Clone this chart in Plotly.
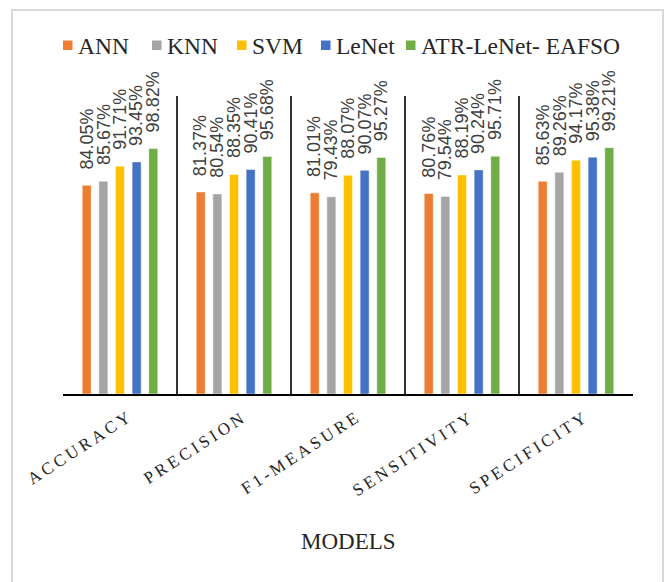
import plotly.graph_objects as go

# Evaluation metrics (x categories) and model scores (%)
categories = ["ACCURACY", "PRECISION", "F1-MEASURE", "SENSITIVITY", "SPECIFICITY"]
model_names = ["ANN", "KNN", "SVM", "LeNet", "ATR-LeNet- EAFSO"]
ann = [84.05, 81.37, 81.01, 80.76, 85.63]
knn = [85.67, 80.54, 79.43, 79.54, 89.26]
svm = [91.71, 88.35, 88.07, 88.19, 94.17]
lenet = [93.45, 90.41, 90.07, 90.24, 95.38]
atr_lenet = [98.82, 95.68, 95.27, 95.71, 99.21]

series = [ann, knn, svm, lenet, atr_lenet]
colors = ["#ED7D31", "#A5A5A5", "#FFC000", "#4472C4", "#70AD47"]

W, H = 668, 582
ML, MR, MT, MB = 63, 35, 96, 188
PW, PH = W - ML - MR, H - MT - MB
BARGAP, GROUPGAP = 0.27, 0.46
SERIF = "Liberation Serif, Times New Roman, serif"


def px(x):
    """pixel x -> paper x"""
    return (x - ML) / PW


def py(y):
    """pixel y -> paper y"""
    return (H - MB - y) / PH


fig = go.Figure()
annotations = []
slot = PW / len(categories) * (1 - BARGAP) / len(series)
for i, (name, vals, col) in enumerate(zip(model_names, series, colors)):
    fig.add_trace(go.Bar(
        x=categories, y=vals, name=name,
        marker=dict(color=col, line=dict(color="rgba(255,255,255,0.45)", width=1)),
        showlegend=False,
    ))
    # rotated value labels sitting above each bar
    for cat, v in zip(categories, vals):
        annotations.append(dict(
            xref="x", yref="y", x=cat, y=v, xanchor="center", yanchor="bottom",
            xshift=(i - (len(series) - 1) / 2) * slot, yshift=14,
            text=f"{v:.2f}%", textangle=-90, showarrow=False,
            font=dict(family="Liberation Sans", size=18, color="#404040"),
        ))

# slanted, letter-spaced category labels under the axis
for cat in categories:
    annotations.append(dict(
        xref="x", yref="y", x=cat, y=0, xanchor="right", yanchor="top",
        xshift=16, yshift=-12, textangle=-33, showarrow=False,
        text="\u2009".join(cat),
        font=dict(family=SERIF, size=17, color="#262626"),
    ))

shapes = []

# outer chart frame
shapes.append(dict(type="rect", xref="paper", yref="paper",
                   x0=px(12), x1=px(663), y0=py(600), y1=py(10),
                   line=dict(color="#D9D9D9", width=2), fillcolor="rgba(0,0,0,0)",
                   layer="below"))

# legend row
legend_left = [63, 152, 237, 321, 406]
for name, col, x0 in zip(model_names, colors, legend_left):
    shapes.append(dict(type="rect", xref="paper", yref="paper",
                       x0=px(x0), x1=px(x0 + 9.5), y0=py(50), y1=py(40.5),
                       line=dict(width=0), fillcolor=col))
    annotations.append(dict(xref="paper", yref="paper", x=px(x0 + 12.5), y=py(45.5),
                            xanchor="left", yanchor="middle", showarrow=False,
                            text=name,
                            font=dict(family=SERIF, size=23.5, color="#262626")))

# axis title
annotations.append(dict(xref="paper", yref="paper", x=px(348), y=py(541.5),
                        xanchor="center", yanchor="middle", showarrow=False,
                        text="MODELS",
                        font=dict(family=SERIF, size=23, color="#262626")))

fig.update_layout(
    width=W, height=H, autosize=False,
    margin=dict(l=ML, r=MR, t=MT, b=MB, pad=0),
    paper_bgcolor="white", plot_bgcolor="white",
    barmode="group", bargap=BARGAP, bargroupgap=GROUPGAP,
    shapes=shapes, annotations=annotations,
    xaxis=dict(
        type="category", tickson="boundaries",
        showticklabels=False, ticks="", ticklen=0,
        showgrid=True, gridcolor="#333333", gridwidth=1.5,
        showline=True, linecolor="#000000", linewidth=1.5,
        range=[-0.5, 4.5],
    ),
    yaxis=dict(range=[0, 120], visible=False, showgrid=False, zeroline=False),
)

fig.write_html("out.html")
